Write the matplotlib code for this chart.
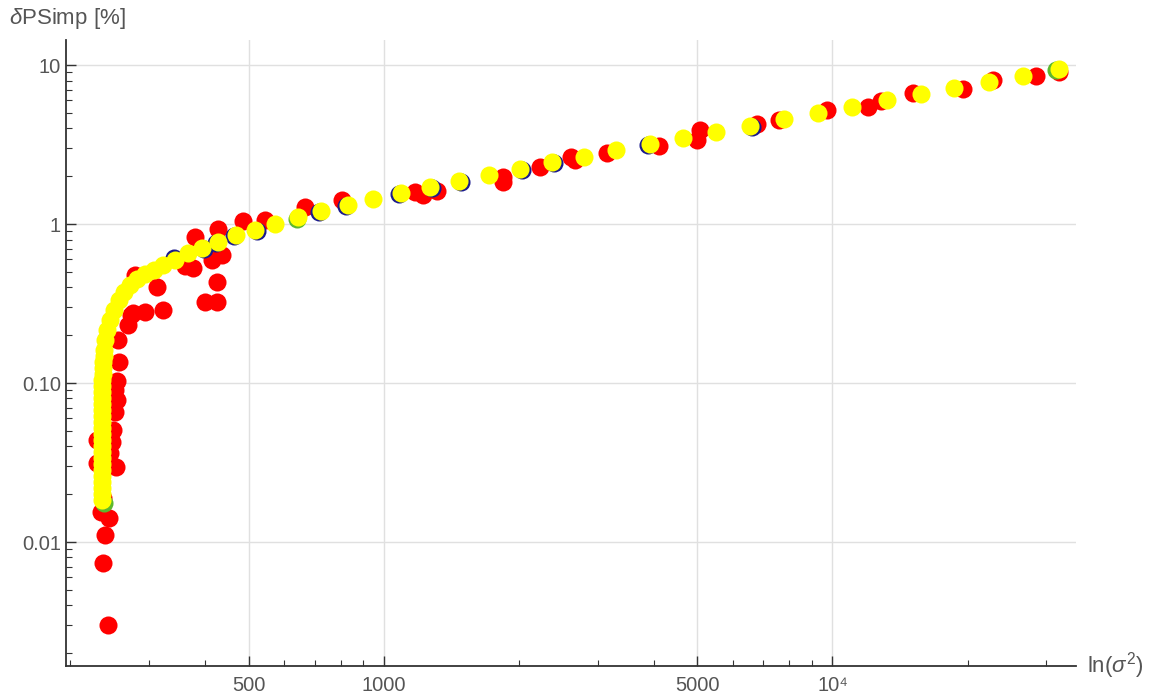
import matplotlib
matplotlib.use('Agg')
import matplotlib.pyplot as plt
from matplotlib.ticker import FixedLocator, FixedFormatter, NullFormatter

plt.rcParams['font.family'] = ['Liberation Sans', 'DejaVu Sans']
plt.rcParams['mathtext.fontset'] = 'custom'
plt.rcParams['mathtext.rm'] = 'Liberation Sans'
plt.rcParams['mathtext.it'] = 'Liberation Sans:italic'

# scattered estimate
red_x = [242.4, 236.3, 238.7, 243.7, 233.9, 236.3, 229.1, 229.1, 252.6, 245.0,
         247.5, 248.8, 251.3, 253.9, 251.3, 253.9, 256.5, 255.2, 268.7, 272.9,
         293.3, 321.6, 311.8, 278.5, 375.1, 413.6, 435.4, 424.3, 399.0, 424.3,
         379.0, 426.6, 484.8, 542.8, 666.6, 806.1, 1173, 1222, 1313, 1842,
         1842, 2227, 2612, 2667, 3142, 4104, 5060, 4990, 6788, 7598,
         9721, 12000, 12830, 15120, 19540, 22800, 28430, 31990, 275.7, 360.0]
red_y = [0.00301, 0.00738, 0.0111, 0.0142, 0.0155, 0.0189, 0.0314, 0.0438, 0.0296, 0.0363,
         0.0426, 0.0506, 0.0657, 0.0782, 0.0904, 0.1029, 0.1355, 0.186, 0.232, 0.268,
         0.280, 0.288, 0.402, 0.478, 0.529, 0.594, 0.638, 0.432, 0.323, 0.323,
         0.828, 0.930, 1.04, 1.06, 1.28, 1.42, 1.59, 1.52, 1.61, 1.98,
         1.84, 2.28, 2.64, 2.53, 2.80, 3.09, 3.90, 3.38, 4.26, 4.51,
         5.21, 5.44, 5.94, 6.67, 7.06, 8.05, 8.53, 9.03, 0.276, 0.544]

# second estimate (mostly hidden below the yellow one)
green_x = [237.5, 639.7, 31500]
green_y = [0.0176, 1.075, 9.30]

# third estimate
blue_x = [340.3, 396.9, 422.2, 463.0, 521.0, 716.3, 822.8, 1080, 1279, 1485,
          2031, 2393, 3878, 6616]
blue_y = [0.612, 0.696, 0.759, 0.840, 0.904, 1.19, 1.30, 1.54, 1.68, 1.84,
          2.19, 2.42, 3.13, 4.08]

# reference curve
yellow_x = [235, 235, 235, 235, 235, 235, 235, 235, 235, 235,
            235, 235, 235, 235, 235, 235, 235, 235.2, 235.4, 235.5,
            235.7, 235.9, 236, 236.3, 237, 237.5, 238.7, 241.2, 244.5, 249.5,
            256.0, 263.5, 271.5, 281.5, 292.5, 307.5, 321.6, 342.0, 365.6, 392.9,
            426.6, 467.7, 515.6, 571.4, 643.1, 723.8, 831.3, 945.1, 1091, 1266,
            1470, 1714, 2011, 2369, 2792, 3291, 3918, 4642, 5500, 6549,
            7797, 9283, 11050, 13230, 15750, 18660, 22340, 26660, 31990]
yellow_y = [0.0184, 0.0200, 0.0219, 0.0238, 0.0260, 0.0284, 0.0309, 0.0338, 0.0368, 0.0402,
            0.0438, 0.0478, 0.0521, 0.0569, 0.0620, 0.0676, 0.0738, 0.0805, 0.0878, 0.0958,
            0.104, 0.114, 0.124, 0.136, 0.148, 0.161, 0.186, 0.215, 0.249, 0.288,
            0.333, 0.374, 0.414, 0.451, 0.485, 0.514, 0.552, 0.594, 0.657, 0.707,
            0.770, 0.853, 0.917, 1.00, 1.11, 1.21, 1.32, 1.44, 1.57, 1.71,
            1.86, 2.03, 2.22, 2.45, 2.64, 2.92, 3.19, 3.47, 3.79, 4.13,
            4.58, 4.99, 5.44, 6.03, 6.57, 7.17, 7.82, 8.53, 9.44]

x_major = [500, 1000, 5000, 10000]
x_major_labels = ['500', '1000', '5000', '10⁴']
x_minor = [200, 300, 400, 600, 700, 800, 900, 2000, 3000, 4000,
           6000, 7000, 8000, 9000, 20000, 30000]
y_major = [0.01, 0.1, 1, 10]
y_major_labels = ['0.01', '0.10', '1', '10']
y_minor = [m * d for d in [0.001, 0.01, 0.1, 1] for m in range(2, 10)]

fig = plt.figure(figsize=(11.51, 7.0), dpi=100)
ax = fig.add_axes([0.0573, 0.0486, 0.8775, 0.8943])

ms = 13
ax.plot(red_x, red_y, 'o', color='#ff0000', ms=ms, mew=0, zorder=3)
ax.plot(green_x, green_y, 'o', color='#5cb82e', ms=ms, mew=0, zorder=4)
ax.plot(blue_x, blue_y, 'o', color='#1a1a8c', ms=ms, mew=0, zorder=5)
ax.plot(yellow_x, yellow_y, 'o', color='#ffff00', ms=ms, mew=0, zorder=6)

ax.set_xscale('log')
ax.set_yscale('log')
ax.set_xlim(195.4, 34900)
ax.set_ylim(0.00166, 14.4)

ax.xaxis.set_major_locator(FixedLocator(x_major))
ax.xaxis.set_major_formatter(FixedFormatter(x_major_labels))
ax.xaxis.set_minor_locator(FixedLocator(x_minor))
ax.xaxis.set_minor_formatter(NullFormatter())
ax.yaxis.set_major_locator(FixedLocator(y_major))
ax.yaxis.set_major_formatter(FixedFormatter(y_major_labels))
ax.yaxis.set_minor_locator(FixedLocator(y_minor))
ax.yaxis.set_minor_formatter(NullFormatter())

ax.tick_params(which='both', direction='in', color='#333333', labelcolor='#555555',
               labelsize=14.5)
ax.tick_params(which='major', length=7, width=1)
ax.tick_params(which='minor', length=4, width=0.8)
ax.tick_params(axis='x', pad=7)

ax.grid(True, which='major', color='#e0e0e0', linewidth=1)
ax.set_axisbelow(True)

for side in ['top', 'right']:
    ax.spines[side].set_visible(False)
for side in ['left', 'bottom']:
    ax.spines[side].set_color('#333333')
    ax.spines[side].set_linewidth(1.3)

fig.text(0.008, 0.973, r'$\delta$PSimp [%]', fontsize=16, color='#555555', va='center', ha='left')
fig.text(0.944, 0.049, r'ln($\sigma^2$)', fontsize=16, color='#555555', va='center', ha='left')

fig.savefig('out.png', dpi=100, facecolor='white')
